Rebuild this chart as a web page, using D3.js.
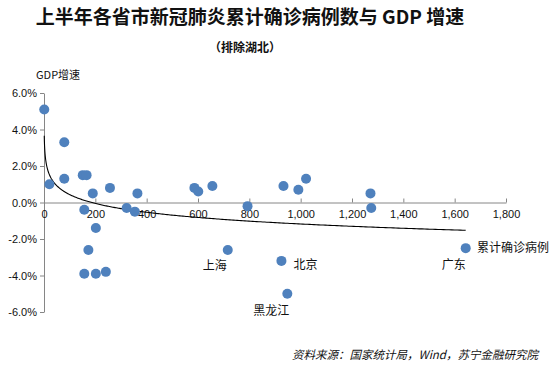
<!DOCTYPE html>
<html lang="zh">
<head>
<meta charset="UTF-8">
<script src="https://d3js.org/d3.v7.min.js"></script>
<style>
  html, body { margin: 0; padding: 0; background: #fff; }
  svg { display: block; font-family: "Noto Sans CJK SC", "Noto Sans", sans-serif; }
</style>
</head>
<body>
<svg id="chart" width="554" height="366"></svg>
<script>
// cumulative confirmed cases (H1) per province, excluding Hubei
let cases = [1, 79, 21, 79, 151, 166, 190, 257, 364, 322, 354, 157, 586, 601, 656,
             793, 933, 991, 1021, 1272, 1275, 202, 173, 157, 202, 241, 716, 925, 948, 1643];
// H1 GDP growth, %
let growth = [5.1, 3.3, 1.0, 1.3, 1.5, 1.5, 0.5, 0.8, 0.5, -0.3, -0.5, -0.4, 0.8, 0.6, 0.9,
              -0.2, 0.9, 0.7, 1.3, 0.5, -0.3, -1.4, -2.6, -3.9, -3.9, -3.8, -2.6, -3.2, -5.0, -2.5];
// labelled provinces (index into the arrays above)
let labelNames = ['上海', '北京', '黑龙江', '广东'];
let labelIndex = [26, 27, 28, 29];
let labelOffset = [[-25, 20], [12, 8], [-34, 21], [-24, 21]];

let xTicks = [0, 200, 400, 600, 800, 1000, 1200, 1400, 1600, 1800];
let yTicks = [6, 4, 2, 0, -2, -4, -6];

let svg = d3.select('#chart');

let x = d3.scaleLinear().domain([0, 1800]).range([44, 506]);
let y = d3.scaleLinear().domain([-6, 6]).range([312, 93]);

// titles
svg.append('text').attr('x', 250).attr('y', 24).attr('text-anchor', 'middle')
  .attr('font-size', 19).attr('font-weight', 'bold').attr('fill', '#111')
  .text('上半年各省市新冠肺炎累计确诊病例数与 GDP 增速');
svg.append('text').attr('x', 245).attr('y', 52).attr('text-anchor', 'middle')
  .attr('font-size', 12).attr('font-weight', 'bold').attr('fill', '#111')
  .text('（排除湖北）');
svg.append('text').attr('x', 36).attr('y', 79)
  .attr('font-size', 11).attr('fill', '#111').text('GDP增速');

// y axis
let yAxis = d3.axisLeft(y).tickValues(yTicks).tickSize(4).tickSizeOuter(0)
  .tickFormat(d => d.toFixed(1) + '%');
let gy = svg.append('g').attr('transform', `translate(${x(0)},0)`).call(yAxis);
gy.select('.domain').attr('stroke', '#868686');
gy.selectAll('.tick line').attr('stroke', '#868686');
gy.selectAll('.tick text').attr('font-size', 11).attr('fill', '#111')
  .attr('font-family', '"Liberation Sans", sans-serif').attr('x', -7);

// x axis at y = 0, ticks pointing up, labels below
let xAxis = d3.axisBottom(x).tickValues(xTicks).tickSize(-4).tickSizeOuter(0)
  .tickFormat(d3.format(','));
let gx = svg.append('g').attr('transform', `translate(0,${y(0)})`).call(xAxis);
gx.select('.domain').attr('stroke', '#868686');
gx.selectAll('.tick line').attr('stroke', '#868686');
gx.selectAll('.tick text').attr('font-size', 11).attr('fill', '#111')
  .attr('font-family', '"Liberation Sans", sans-serif').attr('y', 8);

// logarithmic trend line, least squares of growth on ln(cases)
let lx = cases.map(Math.log);
let mx = d3.mean(lx), my = d3.mean(growth);
let a = d3.sum(lx.map((v, i) => (v - mx) * (growth[i] - my))) / d3.sum(lx.map(v => (v - mx) * (v - mx)));
let b = my - a * mx;
let maxCase = d3.max(cases);
// sampled denser near zero for the steep start
let trend = d3.range(0, 301).map(i => 1 + (maxCase - 1) * Math.pow(i / 300, 2));
svg.append('path')
  .datum(trend)
  .attr('fill', 'none').attr('stroke', '#000').attr('stroke-width', 1.1)
  .attr('d', d3.line().x(d => x(d)).y(d => y(a * Math.log(d) + b)));

// points
svg.append('g').selectAll('circle')
  .data(cases.map((c, i) => [c, growth[i]]))
  .enter().append('circle')
  .attr('cx', d => x(d[0])).attr('cy', d => y(d[1]))
  .attr('r', 5).attr('fill', '#4F81BD');

// province labels
svg.append('g').selectAll('text')
  .data(labelIndex)
  .enter().append('text')
  .attr('x', (d, i) => x(cases[d]) + labelOffset[i][0])
  .attr('y', (d, i) => y(growth[d]) + labelOffset[i][1])
  .attr('font-size', 12).attr('fill', '#111')
  .text((d, i) => labelNames[i]);

// legend text
svg.append('text').attr('x', 477).attr('y', 252)
  .attr('font-size', 12).attr('fill', '#111').text('累计确诊病例');

// source
svg.append('text').attr('x', 538).attr('y', 359).attr('text-anchor', 'end')
  .attr('font-size', 11.5).attr('font-style', 'italic').attr('fill', '#111')
  .text('资料来源：国家统计局，Wind，苏宁金融研究院');
</script>
</body>
</html>
